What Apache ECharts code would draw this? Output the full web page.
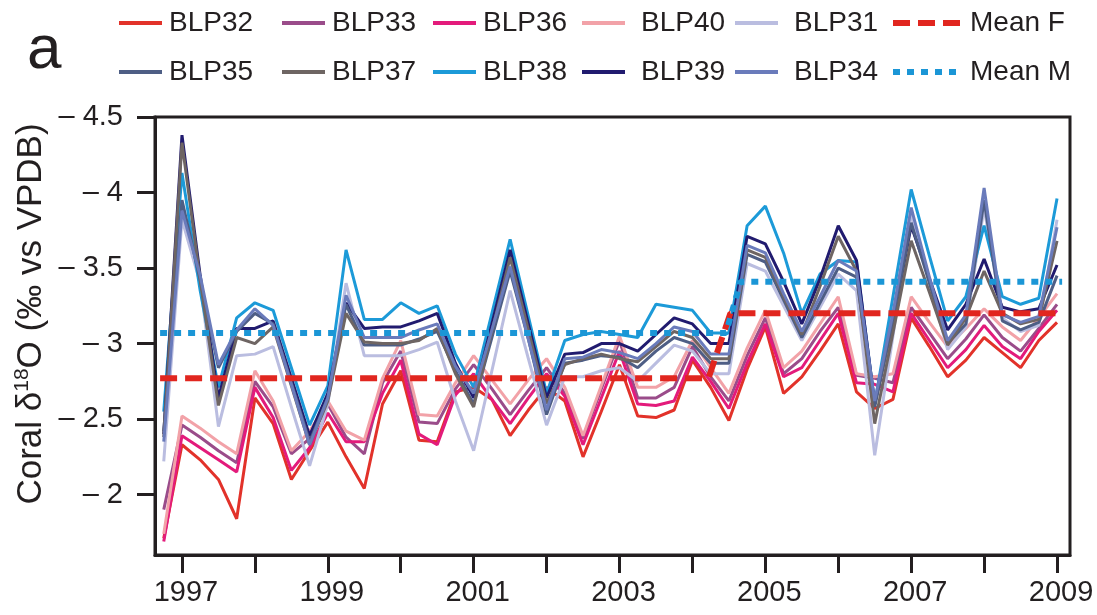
<!DOCTYPE html>
<html>
<head>
<meta charset="utf-8">
<script src="https://cdn.jsdelivr.net/npm/echarts@6/dist/echarts.min.js"></script>
<style>
  html, body { margin: 0; padding: 0; background: #ffffff; }
  #chart { width: 1097px; height: 615px; }
</style>
</head>
<body>
<div id="chart"></div>
<script>
// Quarterly sampling dates (decimal years)
const quarters = [
  1996.75, 1997.00, 1997.25, 1997.50, 1997.75, 1998.00, 1998.25, 1998.50, 1998.75, 1999.00,
  1999.25, 1999.50, 1999.75, 2000.00, 2000.25, 2000.50, 2000.75, 2001.00, 2001.25, 2001.50,
  2001.75, 2002.00, 2002.25, 2002.50, 2002.75, 2003.00, 2003.25, 2003.50, 2003.75, 2004.00,
  2004.25, 2004.50, 2004.75, 2005.00, 2005.25, 2005.50, 2005.75, 2006.00, 2006.25, 2006.50,
  2006.75, 2007.00, 2007.25, 2007.50, 2007.75, 2008.00, 2008.25, 2008.50, 2008.75, 2009.00
];

// Coral d18O records (permil vs VPDB), F colonies
const blp32 = [-1.71, -2.33, -2.23, -2.10, -1.84, -2.64, -2.47, -2.10, -2.29, -2.48,
  -2.25, -2.04, -2.60, -2.82, -2.36, -2.35, -2.68, -2.71, -2.63, -2.39,
  -2.56, -2.71, -2.62, -2.25, -2.55, -2.86, -2.52, -2.51, -2.56, -2.89,
  -2.71, -2.49, -2.83, -3.11, -2.67, -2.78, -2.95, -3.13, -2.68, -2.57,
  -2.63, -3.17, -2.98, -2.78, -2.89, -3.04, -2.94, -2.84, -3.02, -3.14];
const blp33 = [-1.90, -2.46, -2.38, -2.29, -2.21, -2.75, -2.58, -2.27, -2.37, -2.60,
  -2.38, -2.27, -2.74, -2.95, -2.48, -2.47, -2.70, -2.86, -2.70, -2.53,
  -2.69, -2.84, -2.67, -2.37, -2.70, -3.02, -2.64, -2.64, -2.71, -2.98,
  -2.78, -2.62, -2.92, -3.17, -2.80, -2.90, -3.08, -3.24, -2.79, -2.77,
  -2.74, -3.24, -3.07, -2.90, -3.03, -3.19, -3.04, -2.95, -3.10, -3.26];
const blp36 = [-1.69, -2.39, -2.31, -2.23, -2.15, -2.71, -2.51, -2.16, -2.31, -2.54,
  -2.35, -2.35, -2.67, -2.89, -2.40, -2.33, -2.66, -2.80, -2.63, -2.47,
  -2.64, -2.80, -2.65, -2.33, -2.64, -2.95, -2.60, -2.59, -2.62, -2.91,
  -2.75, -2.57, -2.87, -3.13, -2.78, -2.84, -3.02, -3.20, -2.74, -2.73,
  -2.68, -3.20, -3.02, -2.84, -2.96, -3.12, -2.98, -2.90, -3.08, -3.22];
const blp40 = [-1.74, -2.52, -2.44, -2.35, -2.27, -2.82, -2.62, -2.29, -2.42, -2.62,
  -2.42, -2.36, -2.77, -3.02, -2.53, -2.52, -2.74, -2.92, -2.76, -2.60,
  -2.76, -2.90, -2.71, -2.39, -2.72, -3.05, -2.71, -2.71, -2.78, -3.02,
  -2.84, -2.67, -2.97, -3.22, -2.84, -2.95, -3.13, -3.31, -2.80, -2.78,
  -2.80, -3.31, -3.14, -2.98, -3.10, -3.23, -3.11, -3.02, -3.17, -3.33];

// M colonies
const blp31 = [-2.22, -3.82, -3.40, -2.45, -2.92, -2.93, -2.98, -2.58, -2.19, -2.60,
  -3.40, -2.92, -2.92, -2.92, -2.96, -3.01, -2.62, -2.29, -2.82, -3.35,
  -2.90, -2.46, -2.78, -2.78, -2.82, -2.84, -2.75, -2.87, -2.99, -2.95,
  -2.80, -2.80, -3.53, -3.48, -3.25, -3.02, -3.24, -3.46, -3.35, -2.26,
  -3.05, -3.86, -3.40, -2.96, -3.11, -3.90, -3.17, -3.08, -3.12, -3.82];
const blp34 = [-2.35, -3.88, -3.45, -2.86, -3.09, -3.23, -3.12, -2.73, -2.33, -2.64,
  -3.32, -3.04, -3.04, -3.04, -3.09, -3.13, -2.85, -2.67, -3.09, -3.51,
  -3.03, -2.56, -2.90, -2.91, -2.96, -2.94, -2.90, -3.00, -3.11, -3.08,
  -2.93, -2.93, -3.65, -3.60, -3.33, -3.08, -3.31, -3.55, -3.48, -2.62,
  -3.20, -3.90, -3.44, -3.02, -3.19, -4.03, -3.19, -3.14, -3.18, -3.77];
const blp35 = [-2.42, -3.95, -3.42, -2.84, -3.08, -3.20, -3.13, -2.74, -2.35, -2.64,
  -3.26, -2.99, -2.99, -2.99, -3.03, -3.08, -2.82, -2.60, -3.04, -3.48,
  -3.03, -2.53, -2.87, -2.89, -2.92, -2.91, -2.84, -2.95, -3.04, -3.00,
  -2.87, -2.87, -3.59, -3.54, -3.29, -3.04, -3.27, -3.50, -3.44, -2.58,
  -3.15, -3.80, -3.40, -3.00, -3.13, -3.95, -3.15, -3.09, -3.14, -3.45];
const blp37 = [-2.38, -4.33, -3.42, -2.59, -3.04, -3.00, -3.11, -2.72, -2.33, -2.62,
  -3.20, -3.01, -3.00, -3.00, -3.02, -3.10, -2.80, -2.58, -3.08, -3.57,
  -3.09, -2.60, -2.86, -2.90, -2.93, -2.90, -2.88, -2.98, -3.08, -3.04,
  -2.90, -2.90, -3.62, -3.57, -3.31, -3.06, -3.38, -3.71, -3.48, -2.47,
  -3.07, -3.68, -3.34, -2.99, -3.17, -3.48, -3.20, -3.13, -3.16, -3.68];
const blp38 = [-2.55, -4.13, -3.35, -2.71, -3.17, -3.27, -3.22, -2.84, -2.46, -2.72,
  -3.62, -3.16, -3.16, -3.27, -3.20, -3.25, -2.93, -2.71, -3.20, -3.69,
  -3.18, -2.67, -3.02, -3.06, -3.08, -3.06, -3.04, -3.26, -3.24, -3.22,
  -3.07, -3.07, -3.78, -3.91, -3.60, -3.20, -3.46, -3.55, -3.54, -2.60,
  -3.31, -4.02, -3.58, -3.15, -3.31, -3.78, -3.31, -3.26, -3.30, -3.96];
const blp39 = [-2.40, -4.38, -3.45, -2.64, -3.10, -3.10, -3.15, -2.77, -2.39, -2.67,
  -3.27, -3.10, -3.11, -3.11, -3.15, -3.20, -2.87, -2.64, -3.13, -3.62,
  -3.13, -2.64, -2.93, -2.94, -3.00, -3.00, -2.95, -3.06, -3.17, -3.13,
  -3.00, -3.00, -3.71, -3.66, -3.41, -3.13, -3.43, -3.78, -3.55, -2.60,
  -3.15, -3.78, -3.43, -3.09, -3.26, -3.56, -3.24, -3.21, -3.23, -3.52];

// Group means, before and after the 2004 shift
const meanFYears = [1996.70, 2004.22, 2004.52, 2009.06];
const meanF = [-2.77, -2.77, -3.20, -3.20];
const meanMYears = [1996.70, 2004.46, 2004.66, 2009.07];
const meanM = [-3.07, -3.07, -3.41, -3.41];

// Axis ticks and labels
const yTicks = [-4.5, -4, -3.5, -3, -2.5, -2];
const yearTicks = [1997, 1998, 1999, 2000, 2001, 2002, 2003, 2004, 2005, 2006, 2007, 2008, 2009];
const yearLabels = [1997, 1999, 2001, 2003, 2005, 2007, 2009];

const FONT = '"Liberation Sans", Arial, Helvetica, sans-serif';
const INK = '#231f20';

const records = [
  { name: 'BLP32', data: blp32, color: '#e2322a' },
  { name: 'BLP33', data: blp33, color: '#9a4c8a' },
  { name: 'BLP36', data: blp36, color: '#e31b7b' },
  { name: 'BLP40', data: blp40, color: '#f2a2a8' },
  { name: 'BLP31', data: blp31, color: '#babde0' },
  { name: 'BLP38', data: blp38, color: '#1c9ad8' },
  { name: 'BLP39', data: blp39, color: '#211b6f' },
  { name: 'BLP35', data: blp35, color: '#4e5e85' },
  { name: 'BLP37', data: blp37, color: '#6e6563' },
  { name: 'BLP34', data: blp34, color: '#6a7bbb' }
];

const pair = (xs, ys) => xs.map((x, i) => [x, ys[i]]);

const series = records.map(r => ({
  name: r.name,
  type: 'line',
  data: pair(quarters, r.data),
  symbol: 'none',
  color: r.color,
  lineStyle: { width: 3, color: r.color },
  z: 2
}));

series.push({
  name: 'Mean F',
  type: 'line',
  data: pair(meanFYears, meanF),
  symbol: 'none',
  color: '#e1261f',
  lineStyle: { width: 6, color: '#e1261f', type: [17, 8], cap: 'butt' },
  z: 3
});
series.push({
  name: 'Mean M',
  type: 'line',
  data: pair(meanMYears, meanM),
  symbol: 'none',
  color: '#1b96d6',
  lineStyle: { width: 6, color: '#1b96d6', type: [7, 7], cap: 'butt' },
  z: 3
});

// Legend columns: two entries stacked per column
const columns = [
  { left: 117, items: ['BLP32', 'BLP35'], w: 43, pad: 2 },
  { left: 280, items: ['BLP33', 'BLP37'], w: 43, pad: 2 },
  { left: 431, items: ['BLP36', 'BLP38'], w: 43, pad: 2 },
  { left: 580, items: ['BLP40', 'BLP39'], w: 43, pad: 11 },
  { left: 733, items: ['BLP31', 'BLP34'], w: 43, pad: 11 },
  { left: 890, items: ['Mean F', 'Mean M'], w: 70, pad: 2 }
];
const legends = columns.map(c => ({
  orient: 'vertical',
  left: c.left,
  top: 8,
  padding: 0,
  itemGap: 19,
  itemWidth: c.w,
  itemHeight: 14,
  selectedMode: false,
  data: c.items,
  itemStyle: { opacity: 0 },
  lineStyle: { width: c.w > 50 ? 6 : 4 },
  textStyle: {
    fontFamily: FONT, fontSize: 28, color: INK, lineHeight: 30,
    padding: [0, 0, 0, c.pad]
  }
}));

const chart = echarts.init(document.getElementById('chart'), null, { renderer: 'canvas' });
chart.setOption({
  backgroundColor: '#ffffff',
  animation: false,
  legend: legends,
  grid: {
    left: 155, right: 27, top: 117, bottom: 60,
    containLabel: false,
    outerBoundsMode: 'none',
    show: true, borderColor: INK, borderWidth: 3, backgroundColor: 'transparent'
  },
  graphic: [
    {
      type: 'text', left: 27, top: 20,
      style: { text: 'a', fontFamily: FONT, fontSize: 62, fill: INK }
    },
    {
      // vertical axis title with superscript isotope mass
      type: 'text', x: 29, y: 314, rotation: Math.PI / 2,
      style: {
        text: '{m|Coral δ}{s|18}{m|O (‰ vs VPDB)}',
        align: 'center', verticalAlign: 'middle',
        rich: {
          m: { fontFamily: FONT, fontSize: 35, fill: INK, lineHeight: 40, verticalAlign: 'bottom' },
          s: { fontFamily: FONT, fontSize: 21, fill: INK, lineHeight: 40, verticalAlign: 'top', padding: [3, 0, 0, 0] }
        }
      }
    }
  ],
  xAxis: {
    type: 'value',
    min: 1996.63,
    max: 2009.178,
    axisLine: { show: true, lineStyle: { color: INK, width: 3 } },
    axisTick: { show: true, length: 18, lineStyle: { color: INK, width: 3 }, customValues: yearTicks },
    axisLabel: {
      fontFamily: FONT, fontSize: 29, color: INK, margin: 23,
      padding: [0, 0, 0, 8],
      customValues: yearLabels,
      formatter: v => String(v)
    },
    splitLine: { show: false }
  },
  yAxis: {
    type: 'value',
    inverse: true,
    min: -4.5,
    max: -1.6,
    axisLine: { show: true, lineStyle: { color: INK, width: 3 } },
    axisTick: { show: true, length: 18, lineStyle: { color: INK, width: 3 }, customValues: yTicks },
    axisLabel: {
      fontFamily: FONT, fontSize: 29, color: INK, margin: 32,
      customValues: yTicks,
      formatter: v => '\u2013 ' + String(Math.abs(v))
    },
    splitLine: { show: false }
  },
  series: series
});
</script>
</body>
</html>
